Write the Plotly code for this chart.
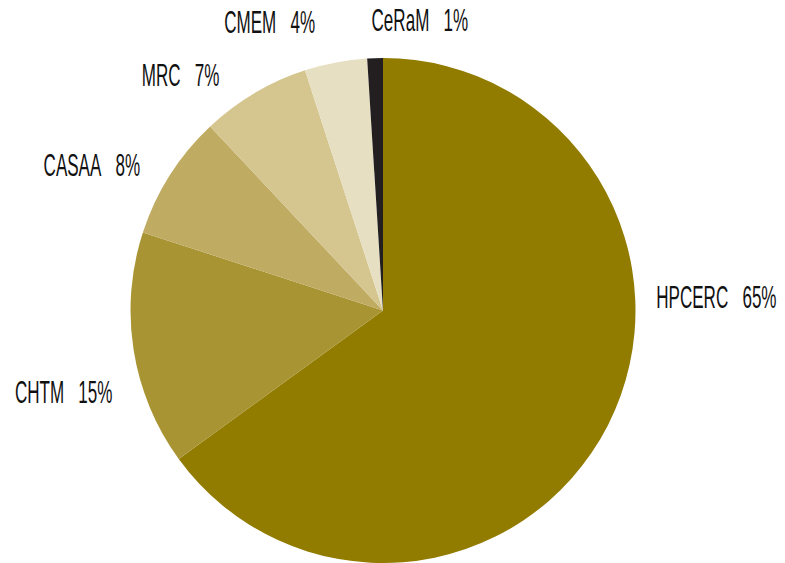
import plotly.graph_objects as go

labels = ["HPCERC", "CHTM", "CASAA", "MRC", "CMEM", "CeRaM"]
values = [65, 15, 8, 7, 4, 1]
colors = ["#917C00", "#A99433", "#C0AB62", "#D5C58E", "#E7DFC1", "#231F20"]

# label centre positions in screen pixels (layout only)
label_px = [(716, 297), (63, 392), (92, 165), (180, 75), (269, 23), (420, 21)]

OFF = 8  # page body margin offset
W, H = 785 - OFF, 563 - OFF  # figure fits the window without scrolling

fig = go.Figure(go.Pie(
    labels=labels, values=values, sort=False, direction="clockwise", rotation=0,
    marker=dict(colors=colors, line=dict(width=0)),
    textinfo="none", hoverinfo="label+percent",
    domain=dict(x=[(130 - OFF) / W, (636 - OFF) / W],
                y=[0, (H - (58 - OFF)) / H]),
    showlegend=False,
))

total = sum(values)
for lab, v, (px, py) in zip(labels, values, label_px):
    fig.add_annotation(
        x=(px - OFF) / W, y=1 - (py - OFF) / H, xref="paper", yref="paper",
        text=f"{lab}&nbsp;&nbsp;&nbsp;{round(100 * v / total)}%",
        showarrow=False, xanchor="center", yanchor="middle",
        font=dict(family="Liberation Sans, Arial, sans-serif", size=31, color="#111111"),
    )

fig.update_layout(
    width=W, height=H, margin=dict(l=0, r=0, t=0, b=0),
    paper_bgcolor="white", plot_bgcolor="white",
)

# horizontally condense the label text to mimic the reference's narrow typeface
post = """
var gd = document.getElementById('{plot_id}');
function squeeze(){
  gd.querySelectorAll('.annotation-text').forEach(function(t){
    t.style.transformBox = 'fill-box';
    t.style.transformOrigin = 'center';
    t.style.transform = 'scaleX(0.55)';
  });
}
squeeze();
gd.on('plotly_afterplot', squeeze);
"""
fig.write_html("out.html", post_script=post)
